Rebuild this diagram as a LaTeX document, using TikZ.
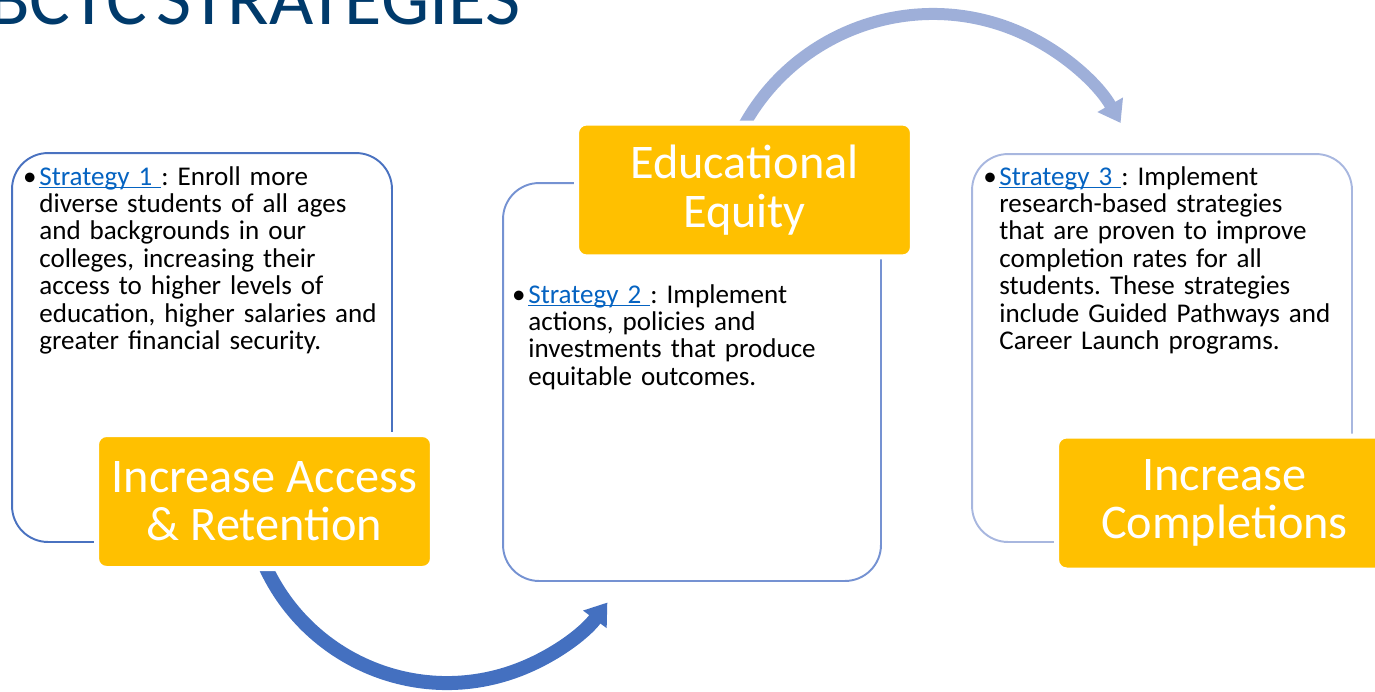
\documentclass[tikz,border=0pt]{standalone}
\usepackage{fontspec}
\setmainfont{Carlito}
\newfontfamily\titlefont[WordSpace=0.5]{Carlito}
\usetikzlibrary{arrows.meta}
\definecolor{gold}{HTML}{FFC000}
\definecolor{navy}{HTML}{003A6B}
\definecolor{link}{HTML}{0563C1}
\definecolor{lineA}{HTML}{4A72C0}
\definecolor{lineB}{HTML}{7592D2}
\definecolor{lineC}{HTML}{A8B7DF}
\definecolor{arrowA}{HTML}{4470C0}
\definecolor{arrowB}{HTML}{9EAFD9}
\newcommand\strat[1]{\textcolor{link}{\setbox0\hbox{Strategy #1\ }%
  \rlap{\rule[-1.9pt]{\wd0}{0.6pt}}\box0}}
\newcommand\bul{\llap{\textbullet\hspace{1.5pt}}}
\frenchspacing

\begin{document}
\begin{tikzpicture}[
    x=0.02cm, y=0.02cm,
    frame/.style={draw, line width=1.1pt, rounded corners=0.72cm,
      minimum width=7.6cm, minimum height=7.78cm},
    goal/.style={fill=gold, draw=white, line width=0.1cm, rounded corners=0.2cm,
      minimum width=6.72cm, minimum height=2.68cm, text=white, align=center,
      font=\fontsize{27.5}{27.5}\selectfont},
    body/.style={anchor=base west, inner sep=0pt, text width=8cm, align=left,
      font=\fontsize{15.4}{15.6}\selectfont},
    sweep/.style={line width=0.28cm, -{Triangle[width=0.56cm,length=0.42cm]}}
]
  \useasboundingbox (0,0) rectangle (1375,-691);
  \clip (0,0) rectangle (1375,-691);

  % outlined panels
  \node[frame, draw=lineA] (box1) at (202,-347.5) {};
  \node[frame, draw=lineB, minimum width=7.56cm, minimum height=7.96cm] (box2) at (692,-382) {};
  \node[frame, draw=lineC, minimum height=7.76cm] (box3) at (1162,-348) {};

  % curved arrows, they start under the gold boxes
  \coordinate (bendA) at (259.1,-551.4);
  \coordinate (bendB) at (737.2,-138.7);
  \draw[sweep, arrowA] (bendA) arc[start angle=200, end angle=323.3, radius=200];
  \draw[sweep, arrowB, line width=0.24cm] (bendB) arc[start angle=155, end angle=29.7, radius=216];

  % gold labels
  \node[goal] (access) at (264.5,-501.5) {Increase Access\\ \& Retention};
  \node[goal] (equity) at (744.5,-190) {Educational\\ Equity};
  \node[goal] (compl) at (1224.5,-503) {Increase\\ Completions};

  % strategy texts
  \node[body] (txt1) at (39,-185) {\bul\strat{1}: Enroll more\\
    diverse students of all ages\\
    and backgrounds in our\\
    colleges, increasing their\\
    access to higher levels of\\
    education, higher salaries and\\
    greater financial security.};
  \node[body] (txt2) at (528,-303) {\bul\strat{2}: Implement\\
    actions, policies and\\
    investments that produce\\
    equitable outcomes.};
  \node[body] (txt3) at (999,-185) {\bul\strat{3}: Implement\\
    research-based strategies\\
    that are proven to improve\\
    completion rates for all\\
    students. These strategies\\
    include Guided Pathways and\\
    Career Launch programs.};

  \node[anchor=base west, inner sep=0pt, text=navy,
    font=\titlefont\fontsize{43.5}{43.5}\selectfont] (title) at (-12,-24) {BCTC STRATEGIES};
\end{tikzpicture}
\end{document}
